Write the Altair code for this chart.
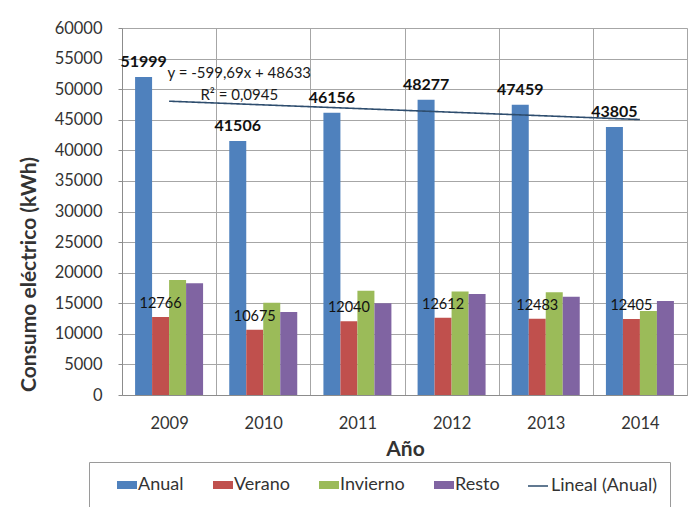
import altair as alt
import pandas as pd

# ---- data ----
years = ["2009", "2010", "2011", "2012", "2013", "2014"]
year_nums = [2009, 2010, 2011, 2012, 2013, 2014]
series = ["Anual", "Verano", "Invierno", "Resto"]
anual = [51999, 41506, 46156, 48277, 47459, 43805]
verano = [12766, 10675, 12040, 12612, 12483, 12405]
invierno = [18790, 15080, 17040, 16940, 16780, 13720]
resto = [18250, 13560, 14980, 16500, 16060, 15360]
trend_name = "Lineal (Anual)"
bar_colors = ["#4F81BD", "#C0504D", "#9BBB59", "#8064A2"]
trend_color = "#2E4D6E"
y_ticks = [0, 5000, 10000, 15000, 20000, 25000, 30000, 35000, 40000, 45000, 50000, 55000, 60000]
eq_lines = ["y = -599,69x + 48633", "R² = 0,0945"]
eq_years = ["2010", "2010"]
eq_values = [52600, 49000]

rows = []
for s, vals in zip(series, [anual, verano, invierno, resto]):
    for y, yn, v in zip(years, year_nums, vals):
        rows.append({"year": y, "year_num": yn, "serie": s, "value": v})
df = pd.DataFrame(rows)
eq_df = pd.DataFrame({"year": eq_years, "value": eq_values, "txt": eq_lines})

FONT = "Lato"
TXT = "#333333"

# bar legend: entries only, no frame
color_legend = alt.Legend(
    title=None, orient="none", legendX=-5, legendY=447, direction="horizontal",
    padding=0, labelFont=FONT, labelFontSize=18, labelColor=TXT, labelOffset=1,
    columnPadding=29, symbolSize=400, symbolType="M-1,-0.4H1V0.4H-1Z",
    symbolStrokeWidth=0, zindex=2,
)
# trend legend: carries the frame around the whole legend row
line_legend = alt.Legend(
    title=" ", titleOrient="left", titleFontSize=10, titlePadding=425,
    orient="none", legendX=-33, legendY=434, direction="horizontal",
    strokeColor="#9a9a9a", padding=13,
    labelFont=FONT, labelFontSize=18, labelColor=TXT, labelOffset=2,
    symbolSize=400, symbolType="stroke", symbolStrokeColor=trend_color,
    symbolStrokeWidth=1.6, zindex=1,
)

x_enc = alt.X(
    "year:N", sort=years,
    scale=alt.Scale(paddingInner=0, paddingOuter=0),
    axis=alt.Axis(
        labelAngle=0, tickBand="extent", ticks=False, grid=True,
        gridColor="#a6a6a6", domainColor="#8c8c8c",
        labelFont=FONT, labelFontSize=16.5, labelColor=TXT, labelPadding=20,
        title="Año", titleFont=FONT, titleFontSize=21, titleFontWeight="bold",
        titleColor=TXT, titleX=283, titleY=54, titleBaseline="middle",
    ),
)
y_enc = alt.Y(
    "value:Q",
    scale=alt.Scale(domain=[0, 60000], nice=False),
    axis=alt.Axis(
        values=y_ticks, format="d", grid=True, gridColor="#a6a6a6",
        domainColor="#8c8c8c", tickColor="#8c8c8c", tickSize=4,
        labelFont=FONT, labelFontSize=16.5, labelColor=TXT, labelPadding=16,
        title="Consumo eléctrico (kWh)", titleFont=FONT, titleFontSize=21,
        titleFontWeight="bold", titleColor=TXT, titleX=-93, titleY=246,
        titleAlign="center", titleBaseline="middle", titleAngle=270,
    ),
)
xoff = alt.XOffset("serie:N", sort=series,
                   scale=alt.Scale(domain=series, paddingOuter=0.77, paddingInner=0))

bars = alt.Chart(df).mark_bar().encode(
    x=x_enc, y=y_enc, xOffset=xoff,
    color=alt.Color("serie:N", scale=alt.Scale(domain=series, range=bar_colors),
                    legend=color_legend),
)

anual_lbl = alt.Chart(df).transform_filter("datum.serie === 'Anual'").mark_text(
    font=FONT, fontSize=16, fontWeight="bold", color="#111111", dy=-15, baseline="middle"
).encode(x=x_enc, y=y_enc, xOffset=xoff, text=alt.Text("value:Q", format="d"))

verano_lbl = alt.Chart(df).transform_filter("datum.serie === 'Verano'").mark_text(
    font=FONT, fontSize=14.5, color="#111111", dy=-13, baseline="middle"
).encode(x=x_enc, y=y_enc, xOffset=xoff, text=alt.Text("value:Q", format="d"))

trend = alt.Chart(df).transform_filter("datum.serie === 'Anual'").transform_regression(
    "year_num", "value", method="linear"
).transform_calculate(
    year="toString(datum.year_num)", serie="'" + trend_name + "'"
).mark_line(strokeWidth=1.6, color=trend_color).encode(
    x=x_enc, y=y_enc,
    strokeDash=alt.StrokeDash("serie:N", scale=alt.Scale(domain=[trend_name], range=[[1, 0]]),
                              legend=line_legend),
)

eq = alt.Chart(eq_df).mark_text(
    font=FONT, fontSize=15, color="#1a1a1a", dx=-24, baseline="middle"
).encode(x=x_enc, y=y_enc, text="txt:N")

chart = alt.layer(bars, trend, anual_lbl, verano_lbl, eq).properties(
    width=565, height=367,
    autosize=alt.AutoSizeParams(type="none"),
    padding={"left": 114, "top": 20, "right": 1, "bottom": 112},
).configure_view(stroke="#9a9a9a").configure(background="white")

chart.save("out.html", embed_options={"renderer": "svg", "actions": False})
